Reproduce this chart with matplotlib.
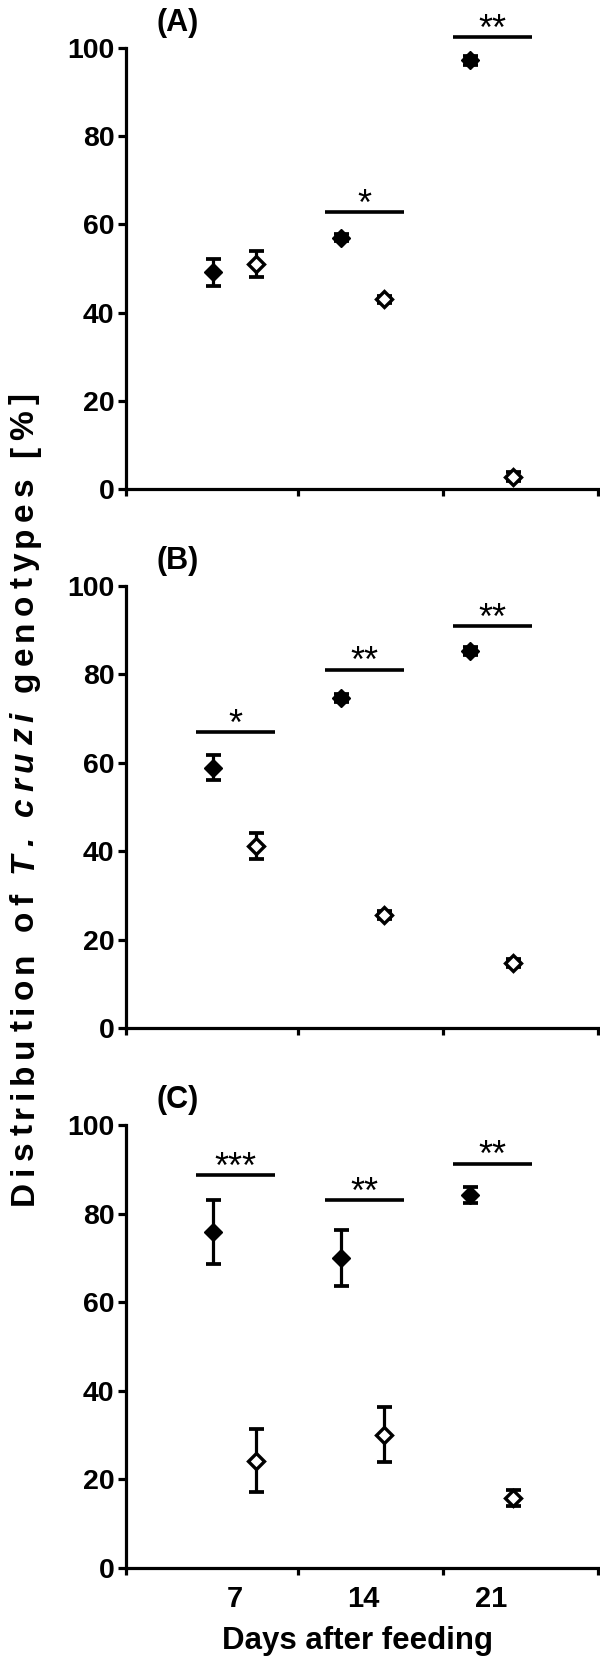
import matplotlib
matplotlib.use("Agg")
import matplotlib.pyplot as plt
import numpy as np

plt.rcParams['font.family'] = ['Liberation Sans', 'DejaVu Sans']
plt.rcParams['font.weight'] = 'bold'

# ---------------- data ----------------
days = ["7", "14", "21"]
panel_labels = ["(A)", "(B)", "(C)"]

a_filled = [49.1, 57.0, 97.2]
a_filled_err = [3.0, 0.8, 1.0]
a_open = [51.0, 43.0, 2.8]
a_open_err = [3.0, 0.8, 1.0]
a_sig = ["", "*", "**"]
a_sig_y = [np.nan, 62.8, 102.5]

b_filled = [58.9, 74.6, 85.2]
b_filled_err = [2.8, 0.9, 0.9]
b_open = [41.2, 25.5, 14.8]
b_open_err = [2.9, 0.9, 0.9]
b_sig = ["*", "**", "**"]
b_sig_y = [67.0, 81.1, 90.9]

c_filled = [75.9, 69.9, 84.2]
c_filled_err = [7.2, 6.3, 1.8]
c_open = [24.2, 30.1, 15.9]
c_open_err = [7.1, 6.2, 1.8]
c_sig = ["***", "**", "**"]
c_sig_y = [88.7, 83.0, 91.3]

yticks = [0, 20, 40, 60, 80, 100]

# ---------------- layout ----------------
W, H = 600, 1661
fig = plt.figure(figsize=(W / 100, H / 100), dpi=100)

def rect(top, bottom, left=126, right=598):
    return [left / W, 1 - bottom / H, (right - left) / W, (bottom - top) / H]

panel_px = [(48, 489), (586, 1028), (1125, 1568)]
cat = np.arange(1, len(days) + 1)
off = 0.167
xmin, xmax = 0.156, 3.83
boundaries = [xmin, 1.494, 2.62, xmax]

panels = [
    (a_filled, a_filled_err, a_open, a_open_err, a_sig, a_sig_y),
    (b_filled, b_filled_err, b_open, b_open_err, b_sig, b_sig_y),
    (c_filled, c_filled_err, c_open, c_open_err, c_sig, c_sig_y),
]

tick_fs = 20.5

for i, ((top, bot), (yf, ef, yo, eo, sig, sigy)) in enumerate(zip(panel_px, panels)):
    ax = fig.add_axes(rect(top, bot))
    ax.set_xlim(xmin, xmax)
    ax.set_ylim(0, 100)
    for s in ['top', 'right']:
        ax.spines[s].set_visible(False)
    for s in ['left', 'bottom']:
        ax.spines[s].set_linewidth(2.3)
    ax.set_yticks(yticks)
    ax.set_yticklabels([str(v) for v in yticks], fontsize=tick_fs, fontweight='bold')
    ax.tick_params(axis='y', length=5.8, width=2.3, pad=2.5)
    ax.set_xticks(boundaries)
    ax.set_xticklabels([])
    ax.tick_params(axis='x', which='major', length=5, width=2.3)
    if i == 2:
        ax.set_xticks(cat, minor=True)
        ax.set_xticklabels(days, minor=True, fontsize=tick_fs + 0.5, fontweight='bold')
        ax.tick_params(axis='x', which='minor', length=0, pad=12)

    # error bars
    ax.errorbar(cat - off, yf, yerr=ef, fmt='none', ecolor='black',
                elinewidth=2.3, capsize=5.4, capthick=2.7, zorder=2, clip_on=False)
    ax.errorbar(cat + off, yo, yerr=eo, fmt='none', ecolor='black',
                elinewidth=2.3, capsize=5.4, capthick=2.7, zorder=2, clip_on=False)
    # markers
    ax.plot(cat - off, yf, linestyle='none', marker='D', ms=9.5, mfc='black',
            mec='black', mew=1, zorder=3, clip_on=False)
    ax.plot(cat + off, yo, linestyle='none', marker='D', ms=8, mfc='white',
            mec='black', mew=2.4, zorder=3, clip_on=False)

    # significance bars
    for k, s, yv in zip(cat, sig, sigy):
        if not s:
            continue
        ax.plot([k + 0.01 - 0.307, k + 0.01 + 0.307], [yv, yv], color='black',
                lw=2.6, solid_capstyle='butt', clip_on=False)
        ax.text(k + 0.01, yv - 0.6, s, ha='center', va='baseline', fontsize=26,
                fontweight='normal', clip_on=False)

    fig.text(178 / W, 1 - (top - 25) / H, panel_labels[i], ha='center', va='center',
             fontsize=22, fontweight='bold')

# x label
fig.text(357 / W, 1 - 1641 / H, "Days after feeding", ha='center', va='center',
         fontsize=22.5, fontweight='bold')

# y label with letter spacing (vertical)
segments = [("Distribution of ", 'normal'), ("T. cruzi", 'italic'), (" genotypes [%]", 'normal')]
ylab_fs = 24
renderer = fig.canvas.get_renderer()
chars = [(ch, st) for txt, st in segments for ch in txt]
ref = fig.text(0, 0, "||", fontsize=ylab_fs, fontweight='bold')
ref_w = ref.get_window_extent(renderer).width
ref.remove()
widths = []
for ch, st in chars:
    t = fig.text(0, 0, "|" + ch + "|", fontsize=ylab_fs, fontweight='bold', fontstyle=st)
    widths.append(t.get_window_extent(renderer).width - ref_w)
    t.remove()
y_bottom = H - 1205
y_top = H - 393
gap = ((y_top - y_bottom) - sum(widths)) / (len(chars) - 1)
x_base = 33
y = y_bottom
for (ch, st), w in zip(chars, widths):
    fig.text(x_base / W, y / H, ch, rotation=90, rotation_mode='anchor',
             ha='left', va='baseline', fontsize=ylab_fs, fontweight='bold', fontstyle=st)
    y += w + gap

fig.savefig("out.png", dpi=100)
